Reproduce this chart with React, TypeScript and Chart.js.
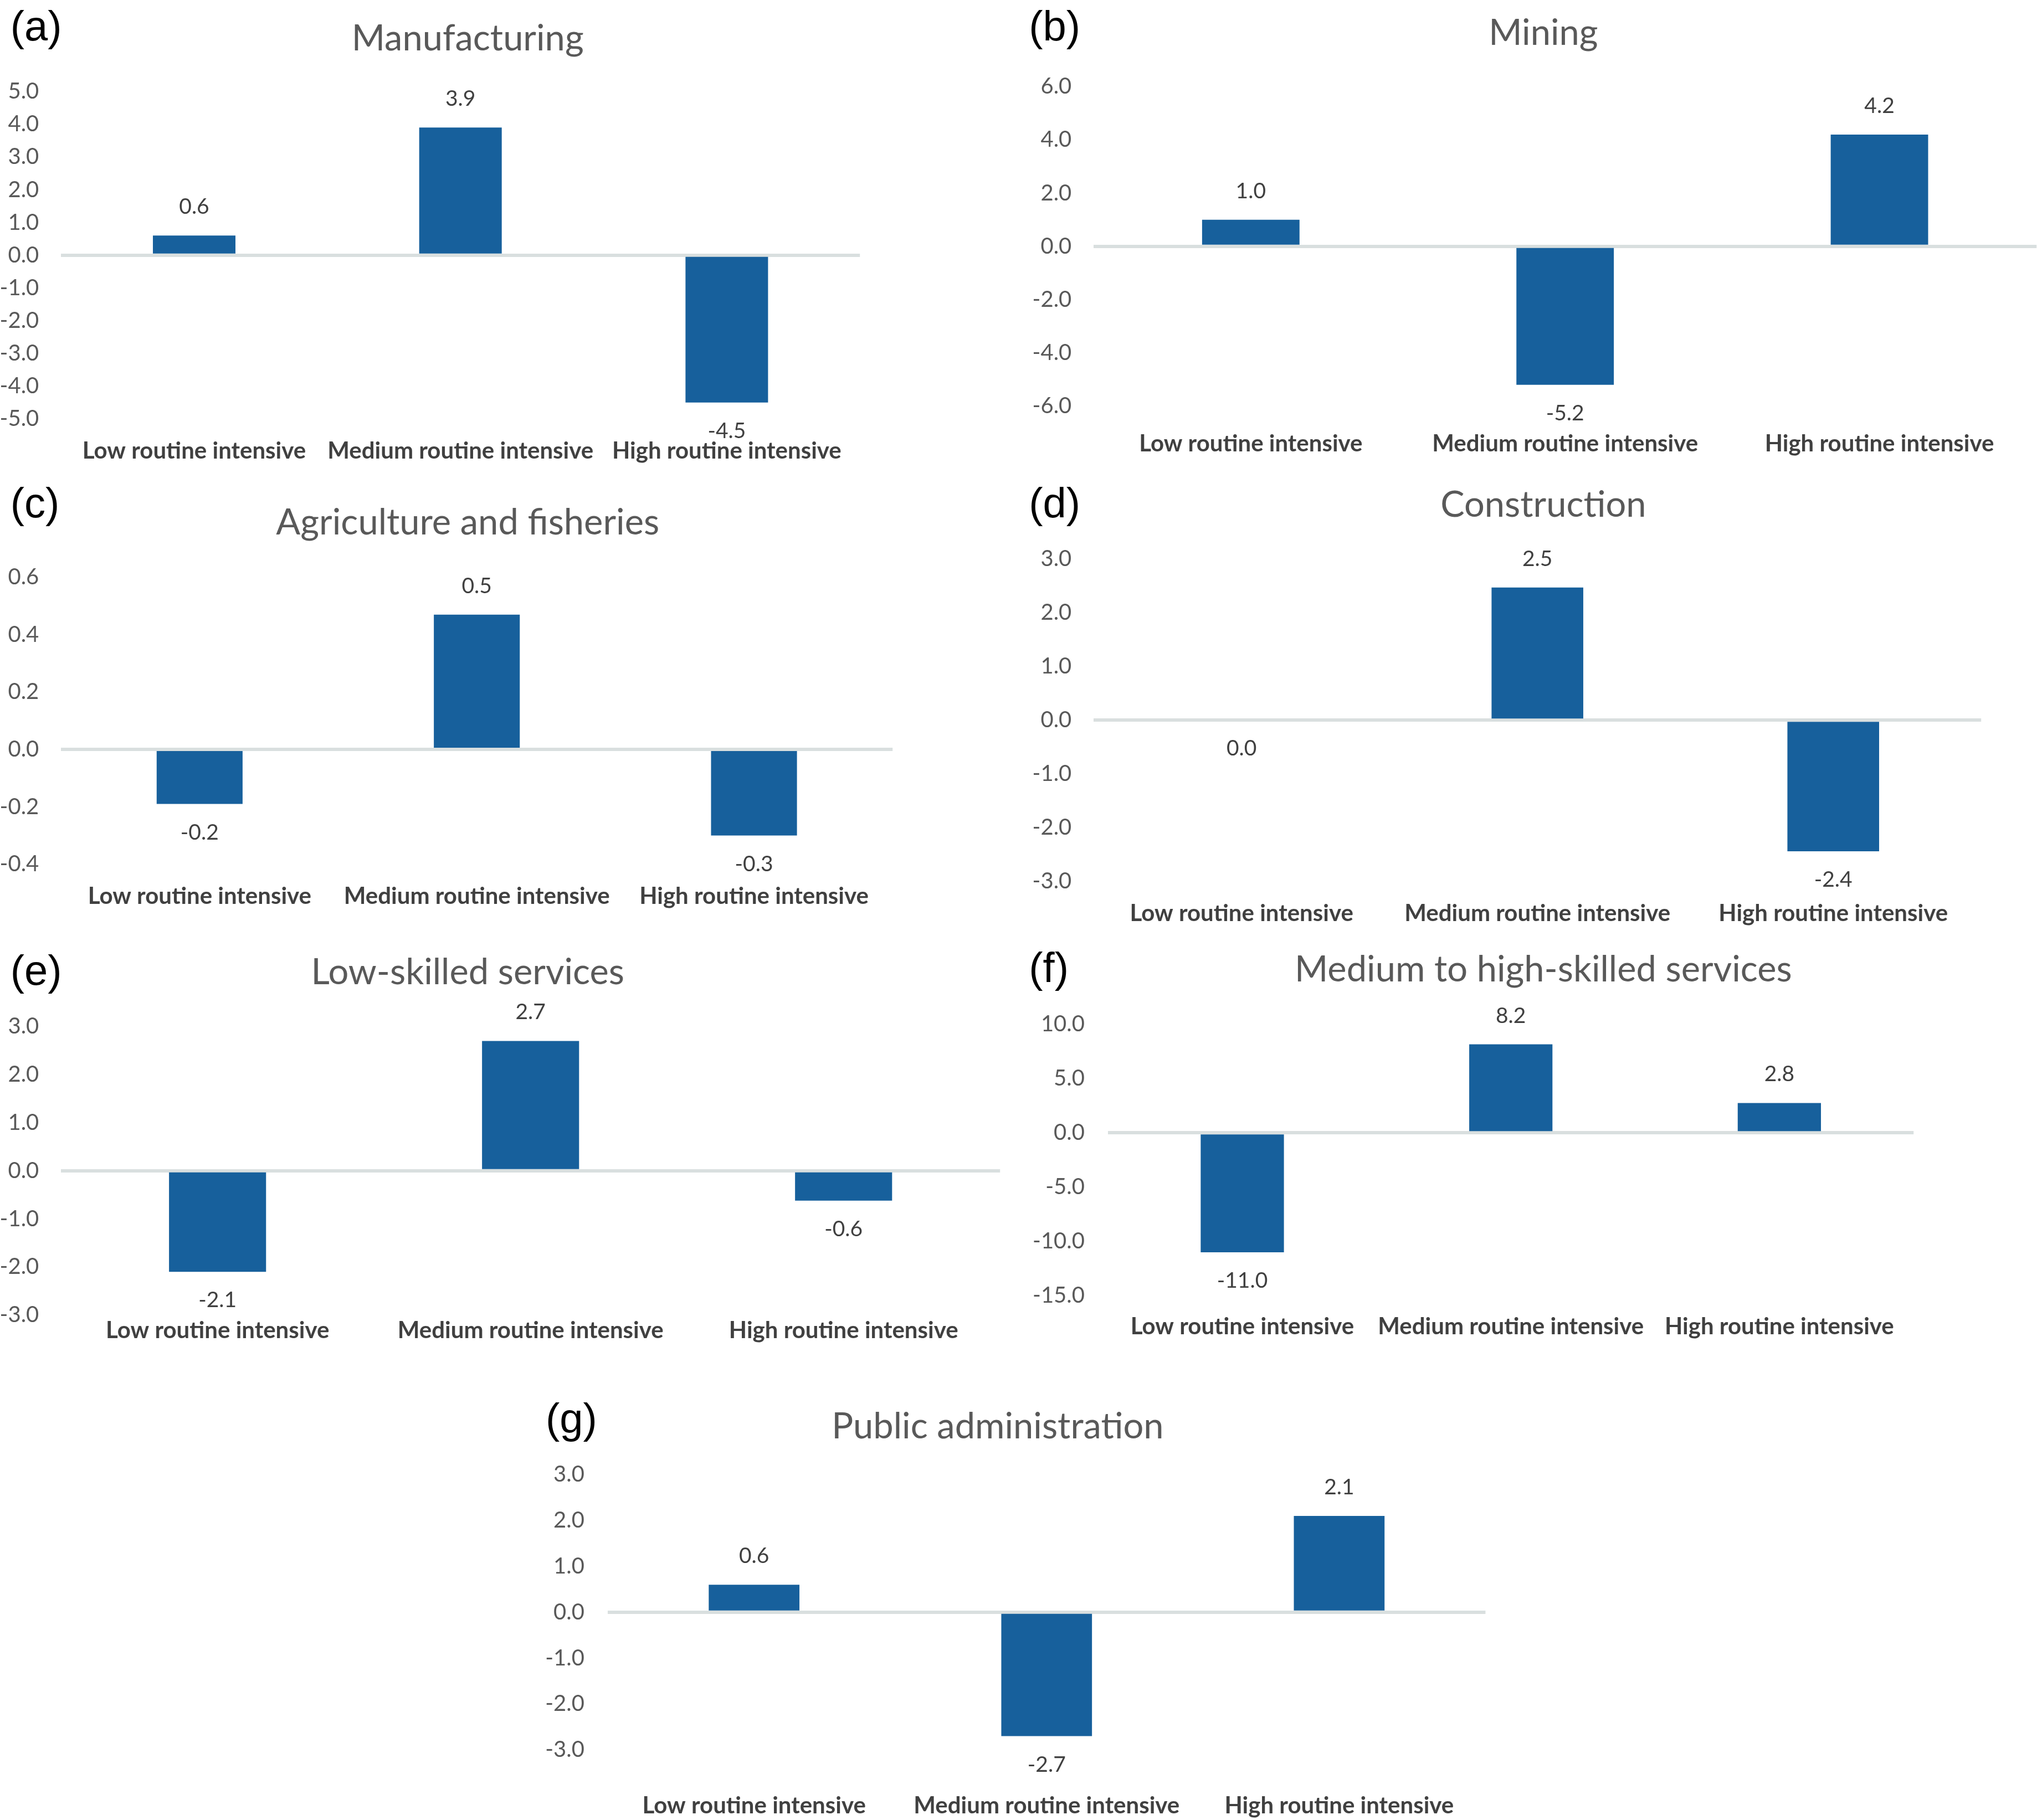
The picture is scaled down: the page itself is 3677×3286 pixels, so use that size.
import React, { useEffect, useRef } from "react";
import { Chart, registerables } from "chart.js";

Chart.register(...registerables);

// ---------- data ----------
const categories = ["Low routine intensive", "Medium routine intensive", "High routine intensive"];

const manufacturingValues = [0.6, 3.9, -4.5];
const miningValues = [1.0, -5.2, 4.2];
const agricultureValues = [-0.19, 0.47, -0.3];
const constructionValues = [0.0, 2.47, -2.44];
const lowSkilledValues = [-2.1, 2.7, -0.62];
const medHighSkilledValues = [-11.0, 8.15, 2.75];
const publicAdminValues = [0.6, -2.7, 2.1];

// y-axis tick ranges: [min, max, step]
const manufacturingTicks = [-5, 5, 1];
const miningTicks = [-6, 6, 2];
const agricultureTicks = [-0.4, 0.6, 0.2];
const constructionTicks = [-3, 3, 1];
const lowSkilledTicks = [-3, 3, 1];
const medHighSkilledTicks = [-15, 10, 5];
const publicAdminTicks = [-3, 3, 1];

const panelTags = ["(a)", "(b)", "(c)", "(d)", "(e)", "(f)", "(g)"];
const panelTitles = [
  "Manufacturing",
  "Mining",
  "Agriculture and fisheries",
  "Construction",
  "Low-skilled services",
  "Medium to high-skilled services",
  "Public administration",
];

// ---------- layout (reference units, scaled by S) ----------
const S = 3677 / 1568;
const DY = 1.5;
const FONT = "Lato, 'Open Sans', sans-serif";
const BAR = "#17609C";

type Geo = {
  plotL: number; plotR: number; plotT: number; plotB: number;
  tickRight: number; catY: number; tagX: number; tagY: number; titleX: number; titleY: number;
};

const geos: Geo[] = [
  { plotL: 47, plotR: 662, plotT: 69, plotB: 321, tickRight: 30, catY: 346, tagX: 8, tagY: 20, titleX: 360, titleY: 28 },
  { plotL: 842, plotR: 1568, plotT: 65, plotB: 311, tickRight: 825, catY: 340, tagX: 792, tagY: 20, titleX: 1188, titleY: 24 },
  { plotL: 47, plotR: 687, plotT: 443, plotB: 664, tickRight: 30, catY: 689, tagX: 8, tagY: 387, titleX: 360, titleY: 401 },
  { plotL: 842, plotR: 1525, plotT: 429, plotB: 677, tickRight: 825, catY: 702, tagX: 792, tagY: 387, titleX: 1188, titleY: 387 },
  { plotL: 47, plotR: 770, plotT: 789, plotB: 1011, tickRight: 30, catY: 1023, tagX: 8, tagY: 747, titleX: 360, titleY: 747 },
  { plotL: 853, plotR: 1473, plotT: 787, plotB: 996, tickRight: 835, catY: 1020, tagX: 792, tagY: 745, titleX: 1188, titleY: 745 },
  { plotL: 468, plotR: 1145, plotT: 1134, plotB: 1346, tickRight: 450, catY: 1389, tagX: 420, tagY: 1092, titleX: 768, titleY: 1097 },
];

const panelValues = [
  manufacturingValues, miningValues, agricultureValues, constructionValues,
  lowSkilledValues, medHighSkilledValues, publicAdminValues,
];
const panelTicks = [
  manufacturingTicks, miningTicks, agricultureTicks, constructionTicks,
  lowSkilledTicks, medHighSkilledTicks, publicAdminTicks,
];

const TICK_SIZE = 40;
const CAT_SIZE = 42;
const LABEL_SIZE = 39;
const TITLE_SIZE = 65;
const TAG_SIZE = 76;

const valueLabelPlugin = {
  id: "valueLabels",
  afterDatasetsDraw(chart: any) {
    const ctx = chart.ctx;
    const ds = chart.data.datasets[0];
    const meta = chart.getDatasetMeta(0);
    const off = 22 * S;
    ctx.save();
    ctx.font = `${LABEL_SIZE}px ${FONT}`;
    ctx.fillStyle = "#404040";
    ctx.textAlign = "center";
    ctx.textBaseline = "middle";
    meta.data.forEach((el: any, i: number) => {
      const v = ds.data[i] as number;
      const y = v > 0 ? el.y - off : el.y + off;
      ctx.fillText(v.toFixed(1), el.x, y);
    });
    ctx.restore();
  },
};

function geometry(g: Geo) {
  const yAxisW = 70 * S;
  const padTop = 30 * S;
  const padRight = 8 * S;
  const xAxisH = 60 * S;
  const plotW = (g.plotR - g.plotL) * S;
  const plotH = (g.plotB - g.plotT) * S;
  return {
    yAxisW, padTop, padRight, xAxisH,
    left: g.plotL * S - yAxisW,
    top: (g.plotT + DY) * S - padTop,
    width: Math.round(yAxisW + plotW + padRight),
    height: Math.round(padTop + plotH + xAxisH),
  };
}

function Panel({ idx }: { idx: number }) {
  const ref = useRef<HTMLCanvasElement>(null);
  const g = geos[idx];
  const geo = geometry(g);
  useEffect(() => {
    if (!ref.current) return;
    const [mn, mx, step] = panelTicks[idx];
    const xPad = (g.catY - g.plotB) * S - CAT_SIZE * 0.6;
    const yPad = (g.plotL - g.tickRight) * S;
    const chart = new Chart(ref.current, {
      type: "bar",
      data: {
        labels: categories,
        datasets: [
          {
            data: panelValues[idx],
            backgroundColor: BAR,
            barPercentage: 0.31,
            categoryPercentage: 1,
          },
        ],
      },
      options: {
        animation: false,
        responsive: false,
        devicePixelRatio: 1,
        layout: {
          autoPadding: false,
          padding: { top: geo.padTop, right: geo.padRight, left: 0, bottom: 0 },
        },
        plugins: {
          legend: { display: false },
          tooltip: { enabled: false },
          title: { display: false },
        },
        scales: {
          x: {
            grid: { display: false, drawTicks: false },
            border: { display: false },
            ticks: {
              color: "#404040",
              font: { family: FONT, size: CAT_SIZE, weight: "bold" },
              padding: Math.max(0, xPad),
              maxRotation: 0,
              autoSkip: false,
            },
            afterFit: (s: any) => {
              s.height = geo.xAxisH;
            },
          },
          y: {
            min: mn,
            max: mx,
            z: 1,
            ticks: {
              stepSize: step,
              color: "#595959",
              font: { family: FONT, size: TICK_SIZE },
              padding: yPad,
              callback: (v: any) => Number(v).toFixed(1),
            },
            grid: {
              drawTicks: false,
              lineWidth: 6,
              color: (c: any) =>
                c.tick && Math.abs(c.tick.value) < 1e-9 ? "#D9DFDF" : "rgba(0,0,0,0)",
            },
            border: { display: false },
            afterFit: (s: any) => {
              s.width = geo.yAxisW;
            },
          },
        },
      } as any,
      plugins: [valueLabelPlugin],
    });
    return () => chart.destroy();
  }, [idx]);

  return (
    <>
      <canvas
        ref={ref}
        width={geo.width}
        height={geo.height}
        style={{
          position: "absolute",
          left: geo.left,
          top: geo.top,
          width: geo.width,
          height: geo.height,
        }}
      />
      <div
        style={{
          position: "absolute",
          left: g.titleX * S,
          top: g.titleY * S,
          transform: "translate(-50%, -50%)",
          fontFamily: FONT,
          fontSize: TITLE_SIZE,
          color: "#595959",
          whiteSpace: "nowrap",
          lineHeight: 1,
        }}
      >
        {panelTitles[idx]}
      </div>
      <div
        style={{
          position: "absolute",
          left: g.tagX * S,
          top: g.tagY * S,
          transform: "translate(0, -50%)",
          fontFamily: "'Liberation Sans', Arial, sans-serif",
          fontSize: TAG_SIZE,
          color: "#000000",
          whiteSpace: "nowrap",
          lineHeight: 1,
        }}
      >
        {panelTags[idx]}
      </div>
    </>
  );
}

export default function App() {
  return (
    <div
      style={{
        position: "absolute",
        left: 0,
        top: 0,
        width: 3677,
        height: 3286,
        overflow: "hidden",
        background: "#ffffff",
      }}
    >
      {geos.map((_, i) => (
        <Panel key={i} idx={i} />
      ))}
    </div>
  );
}
